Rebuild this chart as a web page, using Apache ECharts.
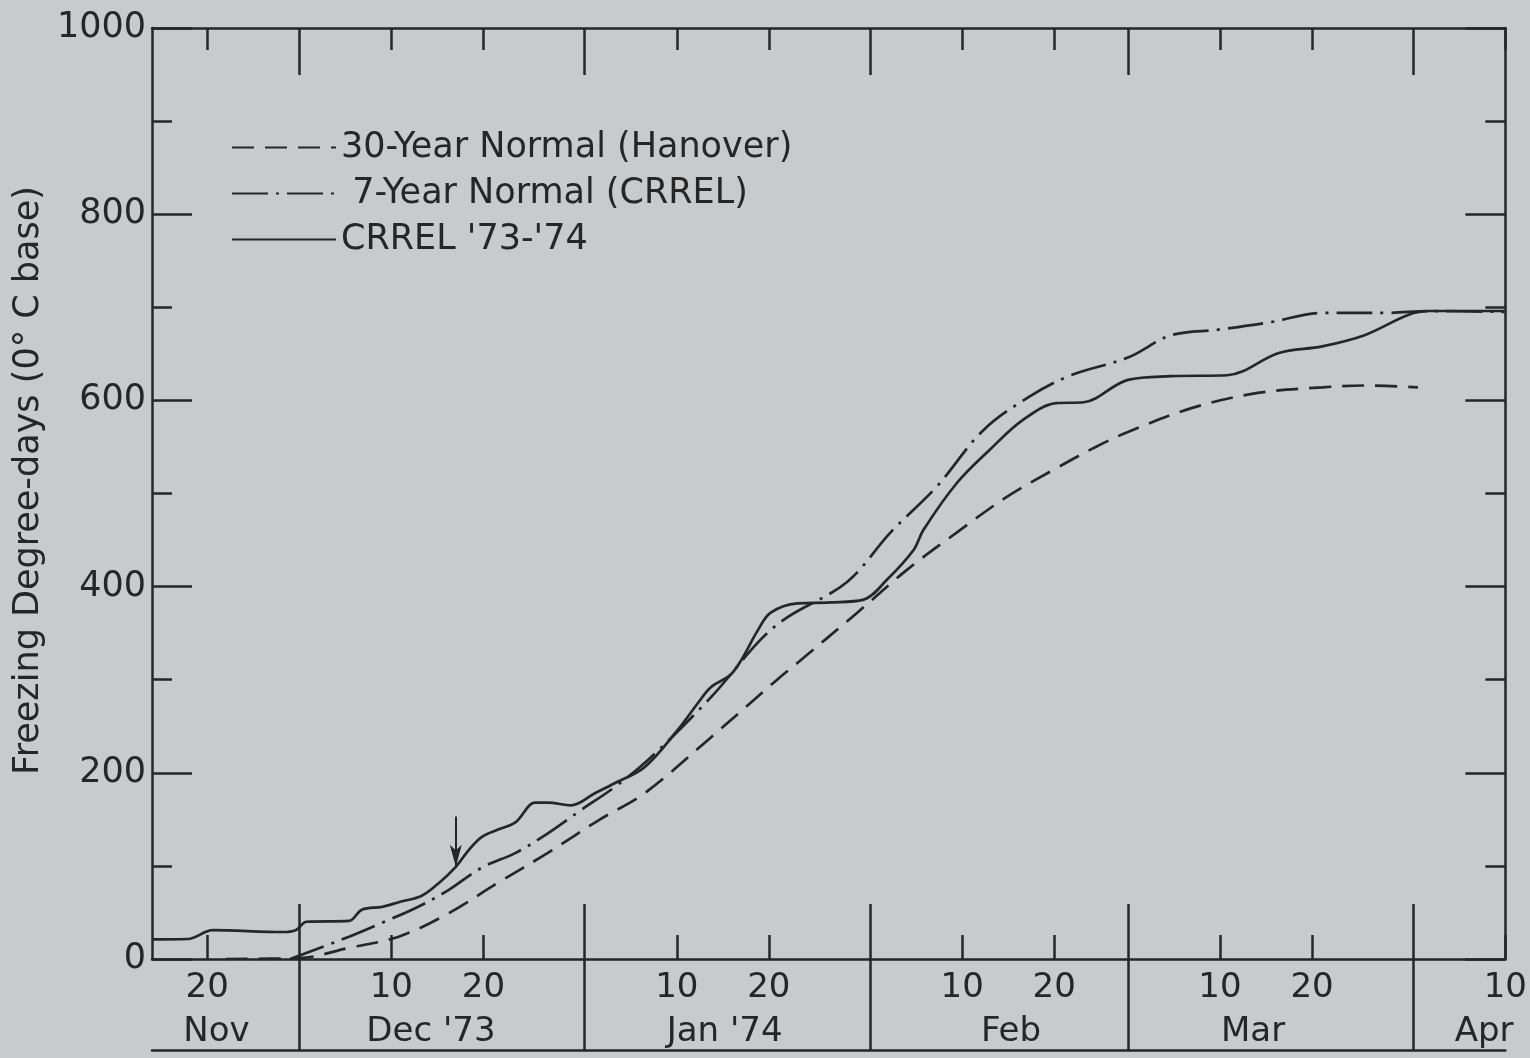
<!DOCTYPE html>
<html>
<head>
<meta charset="utf-8">
<script src="https://cdn.jsdelivr.net/npm/echarts@6/dist/echarts.min.js"></script>
<style>
html,body{margin:0;padding:0;background:#c9cacc;}
#chart{width:1530px;height:1058px;}
</style>
</head>
<body>
<div id="chart"></div>
<script>
// x = day number, Dec 1 1973 = 1 (Nov 30 = 0, Jan 1 = 32, Feb 1 = 63, Mar 1 = 91, Apr 1 = 122)
const dayTickValues = [-10, 10, 20, 41, 51, 72, 82, 100, 110, 131];
const dayTickLabels = ['20', '10', '20', '10', '20', '10', '20', '10', '20', '10'];
const monthStarts = [0, 31, 62, 90, 121];
const monthLabelValues = [-9, 14.3, 46.2, 77.3, 103.6, 128.7];
const monthLabels = ['Nov', "Dec '73", "Jan '74", 'Feb', 'Mar', 'Apr'];

const seriesNames = ['30-Year Normal (Hanover)', ' 7-Year Normal (CRREL)', "CRREL '73-'74"];

const normal30Days = [-8, 0, 5.4, 10.8, 16.2, 21.6, 27.0, 32.5, 37.5, 44.7, 51.9, 54.1, 60.6, 66.0, 71.4, 76.8, 82.2, 86.5, 90.0, 97.0, 104.1, 111.1, 115.7, 121.5];
const normal30Values = [0, 1, 12, 24, 49, 82, 114, 149, 178, 238, 300, 318, 372, 418, 458, 496, 527, 550, 566, 592, 608, 614, 616, 614];

const normal7Days = [-1, 5.4, 9.0, 12.7, 16.2, 19.8, 23.5, 27.0, 30.6, 34.3, 37.9, 44.7, 50.1, 53.0, 59.5, 64.2, 69.2, 74.3, 79.3, 83.8, 90.0, 94.7, 99.8, 105.5, 111.1, 118.1, 122.8, 130.9];
const normal7Values = [0, 24, 39, 55, 74, 98, 114, 135, 160, 185, 214, 281, 343, 367, 405, 458, 507, 568, 604, 627, 646, 670, 676, 684, 694, 694, 696, 695];

const crrelDays = [-16, -12.1, -9.4, -1.8, -0.4, 0.8, 5.4, 6.8, 9.0, 10.8, 13.3, 15.2, 17.0, 18.4, 19.8, 21.6, 23.5, 25.6, 27.0, 29.5, 32.1, 34.3, 37.5, 41.1, 43.3, 44.7, 46.8, 48.0, 49.8, 51.2, 54.1, 57.7, 61.3, 63.8, 66.7, 67.8, 71.4, 75.0, 78.6, 82.2, 85.2, 90.0, 94.7, 100.8, 106.4, 111.1, 115.7, 120.5, 122.8, 130.9];
const crrelValues = [21, 21.5, 31, 29, 31, 40, 41, 53, 56, 61, 68, 82, 99, 117, 131, 139, 147, 168, 168, 165, 178, 189, 206, 246, 275, 292, 305, 321, 353, 372, 382, 383, 386, 407, 439, 461, 511, 547, 579, 597, 598, 622, 626, 627, 651, 658, 670, 692, 696, 696];

const arrowDay = 17;
const arrowTop = 153;
const arrowTip = 99;

const yTicks = [0, 200, 400, 600, 800, 1000];

function pairs(xs, ys) { return xs.map((x, i) => [x, ys[i]]); }

const INK = '#262626';
const FONT = 'DejaVu Sans';
const X_MIN = -16, X_MAX = 131;

const chart = echarts.init(document.getElementById('chart'), null, {renderer: 'canvas'});

function xAxisBase(extra) {
  return Object.assign({
    type: 'value', min: X_MIN, max: X_MAX, gridIndex: 0,
    splitLine: {show: false},
    axisLine: {show: false, onZero: false, lineStyle: {color: INK, width: 2.5}},
    axisTick: {show: false},
    axisLabel: {show: false}
  }, extra);
}
const LINE = {show: true, onZero: false, lineStyle: {color: INK, width: 2.5}};

const option = {
  backgroundColor: '#c9cacc',
  animation: false,
  grid: {left: 152, right: 19, top: 28, bottom: 99, containLabel: false},
  legend: {
    orient: 'vertical', left: 226, top: 125,
    itemWidth: 104, itemHeight: 30, itemGap: 11,
    itemStyle: {opacity: 0},
    textStyle: {fontFamily: FONT, fontSize: 35, color: INK},
    data: seriesNames
  },
  xAxis: [
    xAxisBase({
      position: 'bottom', offset: 0,
      axisLine: LINE,
      axisTick: {show: true, inside: true, length: 24, customValues: dayTickValues, lineStyle: {color: INK, width: 2.5}},
      axisLabel: {show: true, customValues: dayTickValues, margin: 12, fontFamily: FONT, fontSize: 34, color: INK,
        formatter: v => dayTickLabels[dayTickValues.indexOf(v)]}
    }),
    xAxisBase({
      position: 'bottom', offset: 0,
      axisTick: {show: true, inside: true, length: 55, customValues: monthStarts, lineStyle: {color: INK, width: 2.5}}
    }),
    xAxisBase({
      position: 'bottom', offset: 91,
      axisLine: LINE,
      axisTick: {show: true, inside: true, length: 91, customValues: monthStarts, lineStyle: {color: INK, width: 2.5}},
      axisLabel: {show: true, inside: true, customValues: monthLabelValues, margin: 1, fontFamily: FONT, fontSize: 34, color: INK,
        formatter: v => monthLabels[monthLabelValues.indexOf(v)]}
    }),
    xAxisBase({
      position: 'top', offset: 0,
      axisLine: LINE,
      axisTick: {show: true, inside: true, length: 22, customValues: dayTickValues, lineStyle: {color: INK, width: 2.5}}
    }),
    xAxisBase({
      position: 'top', offset: 0,
      axisTick: {show: true, inside: true, length: 47, customValues: monthStarts, lineStyle: {color: INK, width: 2.5}}
    })
  ],
  yAxis: [
    {
      type: 'value', min: 0, max: 1000, interval: 200, position: 'left',
      name: 'Freezing Degree-days (0° C base)', nameLocation: 'middle', nameGap: 83, nameRotate: 90,
      nameTextStyle: {fontFamily: FONT, fontSize: 35, color: INK, padding: [0, 0, 0, 26]},
      splitLine: {show: false},
      axisLine: LINE,
      axisTick: {show: true, inside: true, length: 40, lineStyle: {color: INK, width: 2.5}},
      minorTick: {show: true, splitNumber: 2, length: 20, lineStyle: {color: INK, width: 2.5}},
      minorSplitLine: {show: false},
      axisLabel: {show: true, margin: 6, fontFamily: FONT, fontSize: 35, color: INK,
        customValues: yTicks, formatter: v => String(v)}
    },
    {
      type: 'value', min: 0, max: 1000, interval: 200, position: 'right',
      splitLine: {show: false},
      axisLine: LINE,
      axisTick: {show: true, inside: true, length: 40, lineStyle: {color: INK, width: 2.5}},
      minorTick: {show: true, splitNumber: 2, length: 20, lineStyle: {color: INK, width: 2.5}},
      axisLabel: {show: false}
    }
  ],
  series: [
    {
      name: seriesNames[0], type: 'line', xAxisIndex: 0, yAxisIndex: 0,
      symbol: 'none', smooth: 0.35,
      lineStyle: {color: INK, width: 2.7, type: [22, 11]},
      itemStyle: {color: INK},
      data: pairs(normal30Days, normal30Values)
    },
    {
      name: seriesNames[1], type: 'line', xAxisIndex: 0, yAxisIndex: 0,
      symbol: 'none', smooth: 0.35,
      lineStyle: {color: INK, width: 2.7, type: [36, 8, 3, 8]},
      itemStyle: {color: INK},
      data: pairs(normal7Days, normal7Values)
    },
    {
      name: seriesNames[2], type: 'line', xAxisIndex: 0, yAxisIndex: 0,
      symbol: 'none', smooth: 0.35,
      lineStyle: {color: INK, width: 2.7, type: 'solid'},
      itemStyle: {color: INK},
      data: pairs(crrelDays, crrelValues),
      markLine: {
        silent: true, animation: false,
        symbol: ['none', 'arrow'], symbolSize: [9, 22],
        label: {show: false},
        itemStyle: {color: INK, opacity: 1},
        lineStyle: {color: INK, width: 2, type: 'solid', opacity: 1},
        data: [[{coord: [arrowDay, arrowTop]}, {coord: [arrowDay, arrowTip]}]]
      }
    }
  ]
};
chart.setOption(option);
</script>
</body>
</html>
